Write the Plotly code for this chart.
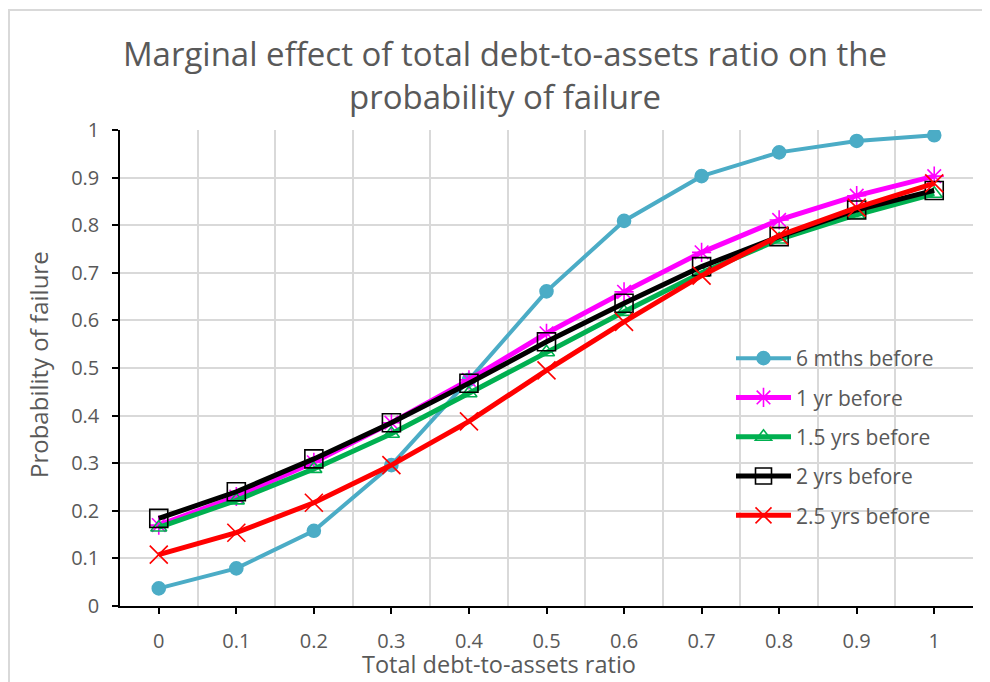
import plotly.graph_objects as go

x_vals = [0, 0.1, 0.2, 0.3, 0.4, 0.5, 0.6, 0.7, 0.8, 0.9, 1.0]
x_labels = ["0", "0.1", "0.2", "0.3", "0.4", "0.5", "0.6", "0.7", "0.8", "0.9", "1"]

six_mths = [0.037, 0.079, 0.158, 0.296, 0.475, 0.661, 0.809, 0.903, 0.953, 0.977, 0.989]
one_yr = [0.17, 0.23, 0.302, 0.385, 0.475, 0.573, 0.66, 0.743, 0.811, 0.862, 0.903]
one_half_yrs = [0.165, 0.222, 0.288, 0.362, 0.447, 0.533, 0.618, 0.7, 0.77, 0.822, 0.866]
two_yrs = [0.184, 0.24, 0.309, 0.385, 0.468, 0.555, 0.636, 0.713, 0.776, 0.832, 0.873]
two_half_yrs = [0.108, 0.154, 0.217, 0.296, 0.388, 0.495, 0.597, 0.694, 0.778, 0.837, 0.888]
y_ticks = [0, 0.1, 0.2, 0.3, 0.4, 0.5, 0.6, 0.7, 0.8, 0.9, 1]
y_labels = ["0", "0.1", "0.2", "0.3", "0.4", "0.5", "0.6", "0.7", "0.8", "0.9", "1"]

series = [
    ("6 mths before", six_mths, "#4BACC6", "circle", 13, 4),
    ("1 yr before", one_yr, "#FF00FF", "asterisk-open", 16, 5),
    ("1.5 yrs before", one_half_yrs, "#00B050", "triangle-up-open", 14, 5),
    ("2 yrs before", two_yrs, "#000000", "square-open", 18, 5),
    ("2.5 yrs before", two_half_yrs, "#FF0000", "x-thin-open", 18, 5),
]

FONT = "Open Sans"
GREY = "#595959"

# page has an 8px body margin; figure is sized so it ends at the window edge
W, H = 982, 674
OFF = 8
PL, PR, PT, PB = 120, 973, 130, 606  # plot area in page pixels
PW, PH = PR - PL, PB - PT


def px(xp):
    return (xp - PL) / PW


def py(yp):
    return (PB - yp) / PH


fig = go.Figure()
for i, (name, vals, col, sym, size, lw) in enumerate(series):
    fig.add_trace(go.Scatter(
        x=x_vals, y=vals, name=name, mode="lines+markers",
        legendgroup=f"g{i}",
        line=dict(color=col, width=lw),
        marker=dict(symbol=sym, size=size, color=col,
                    line=dict(color=col, width=1.6)),
    ))

fig.update_layout(
    width=W, height=H,
    paper_bgcolor="white", plot_bgcolor="white",
    margin=dict(l=PL - OFF, r=W + OFF - PR, t=PT - OFF, b=H + OFF - PB, autoexpand=False),
    font=dict(family=FONT, color=GREY, size=20),
    title=dict(
        text="Marginal effect of total debt-to-assets ratio on the<br>probability of failure",
        x=(505 - OFF) / W, xanchor="center", y=1 - (66 - OFF) / H, yanchor="middle",
        font=dict(family=FONT, size=33, color=GREY),
    ),
    showlegend=True,
    legend=dict(
        x=px(731), y=py(338), xanchor="left", yanchor="top",
        bgcolor="rgba(0,0,0,0)", font=dict(size=21, color=GREY, family=FONT),
        tracegroupgap=9, itemwidth=55,
    ),
    xaxis=dict(
        range=[-0.05, 1.05],
        tickvals=x_vals, ticktext=x_labels,
        showgrid=False, zeroline=False,
        showline=True, linecolor="black", linewidth=1.5,
        ticks="outside", ticklen=6, tickcolor="black", tickwidth=1.5,
        tickfont=dict(size=20, color=GREY),
        ticklabelstandoff=10,
        minor=dict(tick0=0.05, dtick=0.1, showgrid=True, gridcolor="#D9D9D9",
                   gridwidth=1.5, ticks=""),
    ),
    yaxis=dict(
        range=[0, 1],
        tickvals=y_ticks, ticktext=y_labels,
        showgrid=True, gridcolor="#D9D9D9", gridwidth=1.5, zeroline=False,
        showline=True, linecolor="black", linewidth=1.5,
        ticks="outside", ticklen=6, tickcolor="black", tickwidth=1.5,
        tickfont=dict(size=20, color=GREY),
        ticklabelstandoff=9,
    ),
    annotations=[
        dict(text="Total debt-to-assets ratio", xref="paper", yref="paper",
             x=px(499), y=py(664), xanchor="center", yanchor="middle",
             showarrow=False, font=dict(size=23.5, color=GREY, family=FONT)),
        dict(text="Probability of failure", xref="paper", yref="paper",
             x=px(38), y=py(365), xanchor="center", yanchor="middle",
             textangle=-90, showarrow=False, font=dict(size=24, color=GREY, family=FONT)),
    ],
    shapes=[
        dict(type="rect", xref="paper", yref="paper",
             x0=px(9), x1=px(1000), y0=py(700), y1=py(10),
             line=dict(color="#D9D9D9", width=2), fillcolor="rgba(0,0,0,0)", layer="below"),
    ],
)

fig.write_html("out.html")
